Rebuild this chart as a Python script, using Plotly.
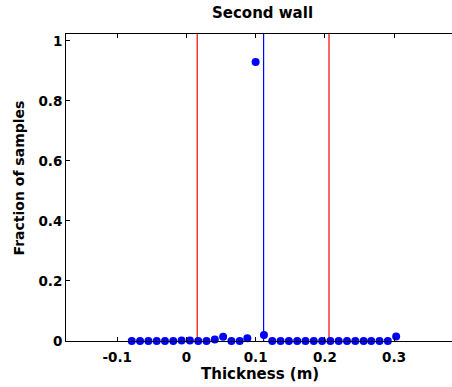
import plotly.graph_objects as go

# Data
thickness = [-0.079, -0.067, -0.055, -0.043, -0.031, -0.019, -0.007, 0.005, 0.017,
             0.029, 0.041, 0.053, 0.065, 0.077, 0.088, 0.100, 0.112, 0.124, 0.136,
             0.148, 0.160, 0.172, 0.184, 0.196, 0.208, 0.220, 0.232, 0.244, 0.256,
             0.267, 0.279, 0.291, 0.303]
fraction = [0.0, 0.0, 0.0, 0.0, 0.0, 0.0, 0.002, 0.002, 0.0,
            0.0, 0.005, 0.014, 0.0, 0.0, 0.009, 0.93, 0.02, 0.0, 0.0,
            0.0, 0.0, 0.0, 0.0, 0.0, 0.0, 0.0, 0.0, 0.0, 0.0,
            0.0, 0.0, 0.0, 0.015]
bound_lines = [0.0156, 0.206]
mean_line = [0.1115]
x_ticks = [-0.1, 0, 0.1, 0.2, 0.3]
x_tick_labels = ["-0.1", "0", "0.1", "0.2", "0.3"]
y_ticks = [0, 0.2, 0.4, 0.6, 0.8, 1]
y_tick_labels = ["0", "0.2", "0.4", "0.6", "0.8", "1"]

YMAX = 1.023
FONT = "DejaVu Sans, Liberation Sans, sans-serif"

W, H = 452, 387
L, R, T, B = 66, 0, 34, 46
PW, PH = W - L - R, H - T - B

fig = go.Figure()
for xv in bound_lines:
    fig.add_trace(go.Scatter(x=[xv, xv], y=[0, YMAX], mode="lines",
                             line=dict(color="#ff0000", width=1.2), hoverinfo="skip"))
for xv in mean_line:
    fig.add_trace(go.Scatter(x=[xv, xv], y=[0, YMAX], mode="lines",
                             line=dict(color="#0000ff", width=1.2), hoverinfo="skip"))
fig.add_trace(go.Scatter(x=thickness, y=fraction, mode="markers",
                         marker=dict(color="#0000ff", size=8, line=dict(width=0)),
                         cliponaxis=False))

fig.update_layout(
    width=W, height=H,
    margin=dict(l=L, r=R, t=T, b=B, autoexpand=False),
    paper_bgcolor="white", plot_bgcolor="white",
    showlegend=False,
    font=dict(family=FONT, size=14, color="black"),
    title=dict(text="<b>Second wall</b>", x=262.5 / W, xref="container", xanchor="center",
               y=1 - 13 / H, yanchor="middle", font=dict(family=FONT, size=15, color="black")),
    annotations=[
        dict(text="<b>Thickness (m)</b>", xref="paper", yref="paper",
             x=(259.5 - L) / PW, y=-(374 - (H - B)) / PH, xanchor="center", yanchor="middle",
             showarrow=False, font=dict(family=FONT, size=15, color="black")),
        dict(text="<b>Fraction of samples</b>", xref="paper", yref="paper",
             x=-(L - 18.5) / PW, y=((H - B) - 178) / PH, xanchor="center", yanchor="middle",
             textangle=-90, showarrow=False, font=dict(family=FONT, size=14, color="black")),
    ],
)
fig.update_xaxes(
    range=[-0.174, 0.3837], tickmode="array", tickvals=x_ticks,
    ticktext=["<b>%s</b>" % t for t in x_tick_labels],
    ticks="inside", ticklen=4, tickcolor="black", tickwidth=1,
    showline=True, linecolor="black", linewidth=1, mirror="ticks",
    showgrid=False, zeroline=False, automargin=False, ticklabelstandoff=4,
    tickfont=dict(family=FONT, size=13.5),
)
fig.update_yaxes(
    range=[0, YMAX], tickmode="array", tickvals=y_ticks,
    ticktext=["<b>%s</b>" % t for t in y_tick_labels],
    ticks="inside", ticklen=4, tickcolor="black", tickwidth=1,
    showline=True, linecolor="black", linewidth=1, mirror=False,
    showgrid=False, zeroline=False, automargin=False,
    tickfont=dict(family=FONT, size=13.5),
)

fig.write_html("out.html", config={"displayModeBar": False},
               post_script="document.body.style.margin='0';")
